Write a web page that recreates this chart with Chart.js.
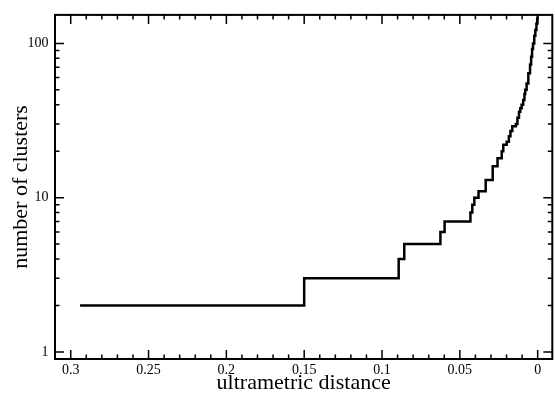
<!DOCTYPE html>
<html>
<head>
<meta charset="utf-8">
<script src="https://cdn.jsdelivr.net/npm/chart.js@4/dist/chart.umd.min.js"></script>
<style>
  html, body { margin: 0; padding: 0; background: #fff; }
  canvas { display: block; }
</style>
</head>
<body>
<canvas id="chart" width="555" height="399"></canvas>
<script>
// distance at which the number of clusters steps up (read right to left)
const distance = [0.2940, 0.1500, 0.0893, 0.0857, 0.0625, 0.0598, 0.0432, 0.0420, 0.0407,
  0.0380, 0.0334, 0.0289, 0.0258, 0.0231, 0.0221, 0.0199, 0.0185, 0.0175, 0.0163,
  0.0140, 0.0130, 0.0120, 0.0112, 0.0103, 0.0093, 0.0085, 0.0080, 0.0071, 0.0060,
  0.0049, 0.0042, 0.0036, 0.0030, 0.0022, 0.0015, 0.0008, 0.0003, 0.0000];
const clusters = [2, 3, 4, 5, 6, 7, 8, 9, 10,
  11, 13, 16, 18, 20, 22, 23, 25, 27, 29,
  30, 33, 36, 38, 40, 43, 47, 50, 55, 64,
  73, 82, 92, 100, 112, 122, 134, 145, 150];

const xTicks = [0, 0.05, 0.1, 0.15, 0.2, 0.25, 0.3];
const yTicks = [1, 10, 100];

const serif = "'Liberation Serif', 'Times New Roman', serif";

// frame plus inward ticks on all four sides
const frameTicks = {
  id: "frameTicks",
  afterDatasetsDraw(chart) {
    const { ctx, chartArea: a, scales: { x, y } } = chart;
    ctx.save();
    ctx.strokeStyle = "#000";
    ctx.lineWidth = 1.5;
    ctx.beginPath();
    const xTick = (v, len) => {
      const px = x.getPixelForValue(v);
      if (px <= a.left + 1 || px >= a.right - 1) return;
      ctx.moveTo(px, a.bottom); ctx.lineTo(px, a.bottom - len);
      ctx.moveTo(px, a.top); ctx.lineTo(px, a.top + len);
    };
    const yTick = (v, len) => {
      const py = y.getPixelForValue(v);
      if (py <= a.top + 1 || py >= a.bottom - 1) return;
      ctx.moveTo(a.left, py); ctx.lineTo(a.left + len, py);
      ctx.moveTo(a.right, py); ctx.lineTo(a.right - len, py);
    };
    for (let i = 0; i <= 31; i++) {
      const v = i / 100;
      xTick(v, i % 5 === 0 ? 9 : 4.5);
    }
    [1, 10, 100].forEach(d => {
      for (let m = 1; m <= 9; m++) yTick(d * m, m === 1 ? 9 : 4.5);
    });
    ctx.stroke();
    ctx.lineWidth = 2;
    ctx.strokeRect(a.left, a.top, a.right - a.left, a.bottom - a.top);
    ctx.restore();
  }
};

new Chart(document.getElementById("chart"), {
  type: "line",
  data: {
    datasets: [{
      data: distance.map((d, i) => ({ x: d, y: clusters[i] })),
      borderColor: "#000",
      borderWidth: 2.5,
      pointRadius: 0,
      stepped: true,
      fill: false
    }]
  },
  options: {
    responsive: false,
    animation: false,
    devicePixelRatio: 1,
    layout: { padding: { left: 0, right: 2.7, top: 11, bottom: 0 } },
    plugins: { legend: { display: false }, tooltip: { enabled: false } },
    scales: {
      x: {
        type: "linear",
        reverse: true,
        min: -0.0094,
        max: 0.3101,
        grid: { display: false, drawTicks: false },
        border: { display: false },
        afterBuildTicks: s => { s.ticks = xTicks.map(v => ({ value: v })); },
        afterFit: s => { s.height = 40; },
        ticks: {
          color: "#000",
          padding: 3,
          maxRotation: 0,
          font: { family: serif, size: 14 },
          callback: v => String(Number(v.toFixed(2)))
        },
        title: {
          display: true,
          text: "ultrametric distance",
          color: "#000",
          font: { family: serif, size: 22 },
          padding: { top: 0, bottom: 3 }
        }
      },
      y: {
        type: "logarithmic",
        min: 0.9,
        max: 153,
        grid: { display: false, drawTicks: false },
        border: { display: false },
        afterBuildTicks: s => { s.ticks = yTicks.map(v => ({ value: v })); },
        afterFit: s => { s.width = 55; },
        ticks: {
          color: "#000",
          padding: 6.5,
          font: { family: serif, size: 14 },
          callback: v => String(v)
        },
        title: {
          display: true,
          text: "number of clusters",
          color: "#000",
          font: { family: serif, size: 22 },
          padding: { top: 8, bottom: 0 }
        }
      }
    }
  },
  plugins: [frameTicks]
});
</script>
</body>
</html>
